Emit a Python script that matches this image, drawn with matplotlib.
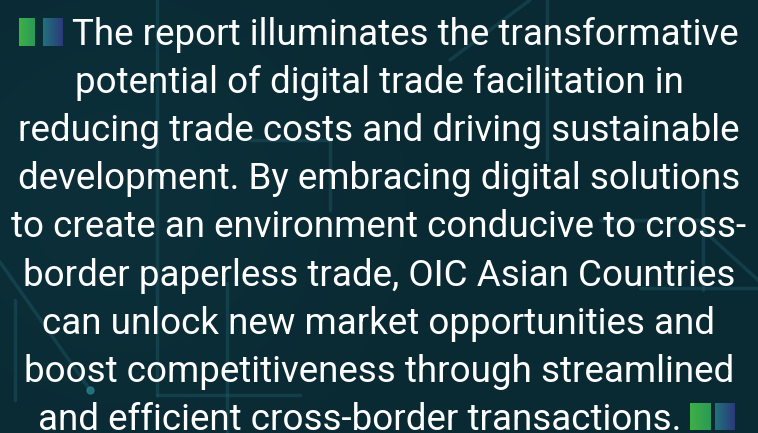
import numpy as np
import matplotlib
matplotlib.use("Agg")
import matplotlib.pyplot as plt
from matplotlib.colors import LinearSegmentedColormap

lines = [
    "The report illuminates the transformative",
    "potential of digital trade facilitation in",
    "reducing trade costs and driving sustainable",
    "development. By embracing digital solutions",
    "to create an environment conducive to cross-",
    "border paperless trade, OIC Asian Countries",
    "can unlock new market opportunities and",
    "boost competitiveness through streamlined",
    "and efficient cross-border transactions.",
]

W, H = 758, 433
fig = plt.figure(figsize=(W / 100, H / 100), dpi=100)
ax = fig.add_axes([0, 0, 1, 1])
ax.set_xlim(0, W)
ax.set_ylim(H, 0)
ax.axis("off")

# background
base = np.array([0x0a, 0x2a, 0x33]) / 255
yy, xx = np.mgrid[0:H, 0:W]
shade = 1 + 0.12 * np.exp(-((xx - 120) ** 2 + (yy - 200) ** 2) / (2 * 150 ** 2))
bg = base[None, None, :] * shade[..., None]
ax.imshow(np.clip(bg, 0, 1), extent=[0, W, H, 0], zorder=0, aspect="auto")

# faint circuit lines
lc = "#1f5866"
segs = [
    ([0, 90], [262, 390]),
    ([157, 157], [0, 395]),
    ([157, 300], [395, 395]),
    ([227, 227], [283, 433]),
    ([547, 547], [0, 160]),
    ([450, 530], [60, 0]),
    ([600, 703], [220, 220]),
    ([703, 703], [190, 290]),
    ([703, 758], [230, 280]),
    ([640, 758], [288, 288]),
    ([15, 15], [300, 400]),
    ([250, 330], [140, 140]),
    ([330, 330], [140, 210]),
]
for xs, ys in segs:
    ax.plot(xs, ys, color=lc, lw=2.5, alpha=0.45, zorder=1, solid_capstyle="round")
ax.plot([90], [390], "o", color="#2a8a96", ms=5, alpha=0.7, zorder=1)

# icons
def block(x0, x1, y0, y1, c0, c1):
    cmap = LinearSegmentedColormap.from_list("g", [c0, c1])
    grad = np.linspace(0, 1, 50)[None, :]
    ax.imshow(grad, cmap=cmap, extent=[x0, x1, y1, y0], aspect="auto", zorder=2)

block(19, 35, 18, 46, "#3db046", "#2c9a57")
block(43, 63, 18, 46, "#21727a", "#2b3a7a")
block(690, 711, 403, 430, "#3db046", "#2c9a57")
block(715, 735, 403, 430, "#21727a", "#2b3a7a")

fs = 26.5
y0, dy = 45, 48.1
for i, t in enumerate(lines):
    y = y0 + dy * i
    if i == 0:
        ax.text(72, y, t, ha="left", va="baseline", color="white",
                fontsize=fs, family="Roboto", zorder=3)
    elif i == len(lines) - 1:
        ax.text(681, y, t, ha="right", va="baseline", color="white",
                fontsize=fs, family="Roboto", zorder=3)
    else:
        ax.text(W / 2, y, t, ha="center", va="baseline", color="white",
                fontsize=fs, family="Roboto", zorder=3)

ax.set_xlim(0, W)
ax.set_ylim(H, 0)
fig.savefig("out.png", dpi=100)
